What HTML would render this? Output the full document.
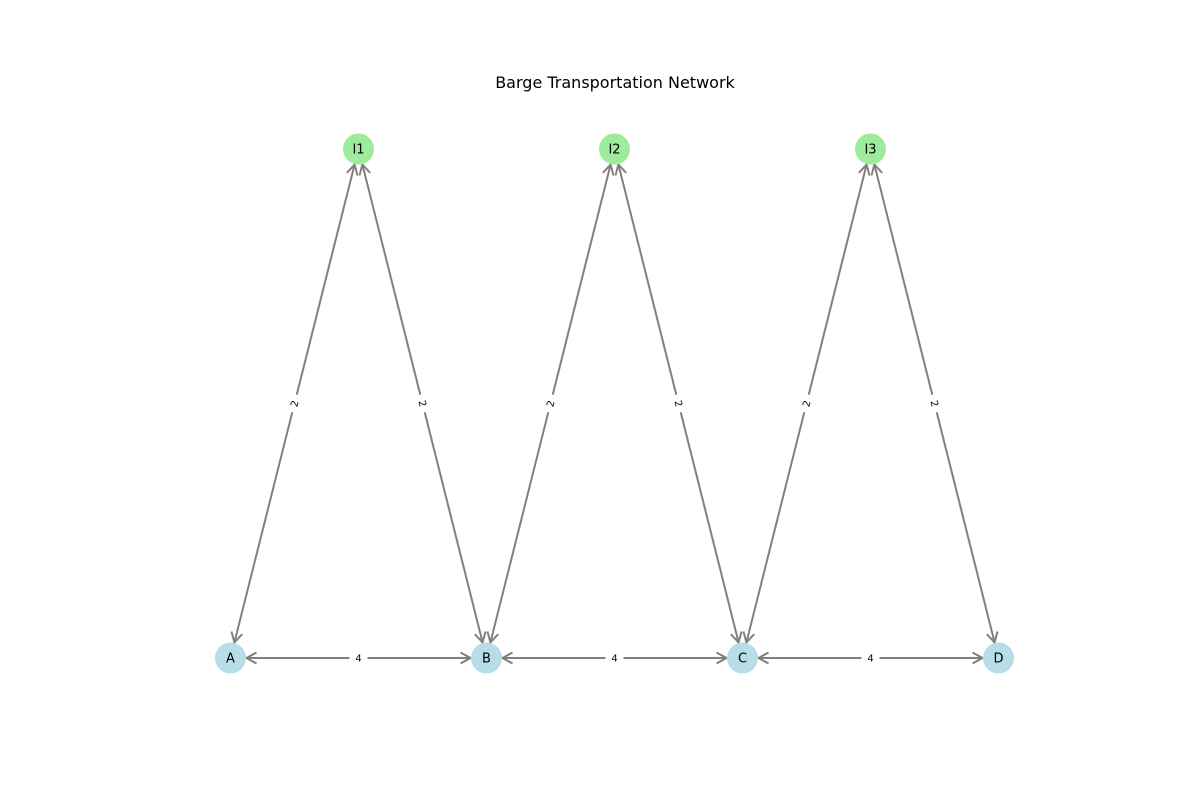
<!DOCTYPE html>
<html><head><meta charset="utf-8"><style>
html,body{margin:0;padding:0;background:#fff;}
svg{display:block;font-family:"DejaVu Sans","Liberation Sans",sans-serif;}
</style></head><body>
<svg id="chart" width="1200" height="800" viewBox="0 0 1200 800">
<text x="615" y="88" text-anchor="middle" font-size="16" fill="#000">Barge Transportation Network</text>
<g id="edges"></g>
<g id="nodes"></g>
<g id="labels"></g>
</svg>
<script>
const nodeNames = ["A","B","C","D","I1","I2","I3"];
const nodeCol = [0,1,2,3,0.5,1.5,2.5];
const nodeRow = [0,0,0,0,1,1,1];
const edgeFrom = ["A","I1","B","I2","C","I3","A","B","C"];
const edgeTo   = ["I1","B","I2","C","I3","D","B","C","D"];
const edgeWeights = [2,2,2,2,2,2,4,4,4];

const NS="http://www.w3.org/2000/svg";
function sx(c){return 230.5+c*256;}
function sy(r){return 658-r*509;}
const pos={};
nodeNames.forEach((n,i)=>{pos[n]=[sx(nodeCol[i]),sy(nodeRow[i])];});
const eg=document.getElementById('edges'), ng=document.getElementById('nodes'), lg=document.getElementById('labels');
const R=16;
function mk(t,a){const e=document.createElementNS(NS,t);for(const k in a)e.setAttribute(k,a[k]);return e;}
function arrowHead(g,x1,y1,x2,y2){
  const dx=x2-x1,dy=y2-y1,L=Math.hypot(dx,dy),ux=dx/L,uy=dy/L;
  const tx=x2-ux*R,ty=y2-uy*R;
  const bx=tx-ux*10,by=ty-uy*10,px=-uy*5.5,py=ux*5.5;
  g.appendChild(mk('polyline',{points:`${bx+px},${by+py} ${tx},${ty} ${bx-px},${by-py}`,fill:'none',stroke:'#808080','stroke-width':2}));
}
edgeFrom.forEach((f,i)=>{
  const t=edgeTo[i];const [x1,y1]=pos[f],[x2,y2]=pos[t];
  const g=mk('g',{});
  
  
  g.appendChild(mk('line',{x1,y1,x2,y2,stroke:'#808080','stroke-width':2}));
  arrowHead(g,x1,y1,x2,y2);arrowHead(g,x2,y2,x1,y1);
  eg.appendChild(g);
  const mx=(x1+x2)/2,my=(y1+y2)/2;
  let ang=Math.atan2(y2-y1,x2-x1)*180/Math.PI;
  if(ang>90)ang-=180; if(ang<-90)ang+=180;
  const lab=mk('g',{transform:`translate(${mx},${my}) rotate(${ang})`});
  
  
  lab.appendChild(mk('rect',{x:-9,y:-6,width:18,height:12,fill:'#fff'}));
  const tx=mk('text',{x:0,y:3.5,'text-anchor':'middle','font-size':10,fill:'#000'});
  tx.textContent=edgeWeights[i];lab.appendChild(tx);lg.appendChild(lab);
});
nodeNames.forEach((n,i)=>{
  const [x,y]=pos[n];
  const g=mk('g',{});
  
  
  g.appendChild(mk('circle',{cx:x,cy:y,r:15.5,fill:nodeRow[i]?'#9cec9c':'#b7dde8'}));
  const t=mk('text',{x,y:y+4.5,'text-anchor':'middle','font-size':13,fill:'#000'});
  t.textContent=n;g.appendChild(t);ng.appendChild(g);
});
</script>
</body></html>
